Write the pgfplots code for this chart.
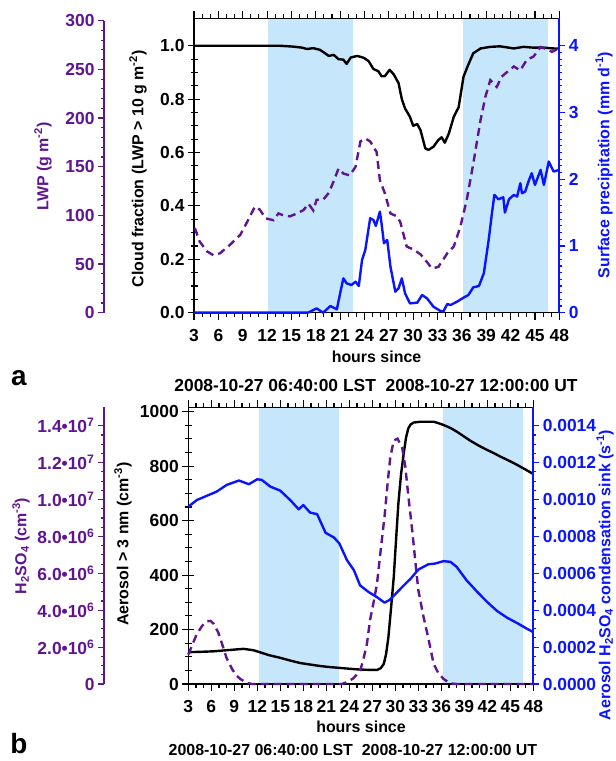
\documentclass[border=0pt]{standalone}
\usepackage{fontspec}
\setmainfont{Liberation Sans}
\usepackage{pgfplots}
\usepackage{pgfplotstable}
\pgfplotsset{compat=1.18}
\definecolor{lwpPurple}{RGB}{95,20,145}
\definecolor{prBlue}{RGB}{10,20,255}
\definecolor{nightShade}{RGB}{198,230,251}
\newcommand\tlf{\bfseries\fontsize{17.5}{17.5}\selectfont}
\newcommand\lbf{\bfseries\fontsize{16}{16}\selectfont}

% ---------- panel a ----------
\pgfplotstableread{
h cf
3.0 1.0
6.0 1.0
9.0 1.0
12.0 1.0
13.6 1.0
15.2 0.997
16.3 0.993
16.9 0.988
17.7 0.991
18.5 0.985
19.0 0.975
19.6 0.962
20.2 0.966
20.8 0.950
21.4 0.948
21.8 0.932
22.3 0.956
23.1 0.962
23.9 0.955
24.5 0.943
25.1 0.913
25.7 0.905
26.1 0.886
26.5 0.886
27.1 0.910
27.6 0.893
28.2 0.860
28.6 0.800
29.0 0.765
29.6 0.734
30.0 0.700
30.5 0.707
30.9 0.684
31.5 0.615
31.9 0.610
32.5 0.622
33.1 0.647
33.5 0.657
33.9 0.637
34.4 0.672
35.0 0.734
35.6 0.770
36.2 0.884
36.8 0.930
37.4 0.972
38.3 0.990
39.5 0.996
40.7 0.998
42.4 0.990
43.6 0.996
44.8 0.993
46.1 0.993
47.3 0.990
48.0 0.990
}\cloudtab

\pgfplotstableread{
h lwp
3.1 87
3.7 73
4.6 63
5.4 59
6.2 61
7.4 69.5
8.7 80
9.5 92.5
10.5 109
11.1 106
11.8 97
12.8 95
13.4 102
14.0 100
14.8 99
15.7 102
16.5 105.5
17.1 112
17.7 105
18.1 116
18.9 116
19.6 123
20.2 135
20.8 148
21.4 143
22.2 141
22.9 150
23.5 176
24.1 179
24.7 176
25.5 165
25.9 136
26.5 123
27.2 102
28.0 99
28.4 93.5
29.2 68
30.0 65
30.9 60
31.7 52
32.3 45.5
33.1 47
34.2 61
35.0 68
35.8 88
36.6 116
37.4 153
38.3 198
38.9 222
39.5 239
40.3 232
40.9 242.5
41.8 249
42.4 253
43.2 249
44.0 260
44.8 263
45.7 273
46.5 270.6
47.1 268
47.7 270.6
48.0 266
}\lwptab

\pgfplotstableread{
h pr
3.0 0
10.0 0
17.0 0
17.3 0.015
18.1 0.065
18.9 0
19.8 0.1
20.6 0.05
21.0 0.29
21.4 0.515
21.8 0.44
22.4 0.415
22.9 0.465
23.3 0.40
23.7 0.79
24.1 0.94
24.7 1.415
25.1 1.39
25.4 1.30
25.9 1.515
26.1 1.34
26.4 1.04
26.8 1.09
27.2 0.69
27.8 0.315
28.2 0.365
28.6 0.515
29.0 0.29
29.6 0.14
30.5 0.15
31.1 0.265
31.7 0.215
32.5 0.09
33.3 0.03
33.7 0.015
34.2 0.13
34.6 0.115
35.4 0.165
36.2 0.225
36.8 0.265
37.4 0.38
38.1 0.40
38.7 0.59
39.3 1.09
39.7 1.49
40.0 1.765
40.5 1.70
41.1 1.73
41.3 1.50
41.8 1.70
42.4 1.765
42.8 1.74
43.2 1.94
43.4 1.79
43.8 1.815
44.2 1.965
44.6 2.09
45.0 1.915
45.7 2.14
46.1 1.915
46.7 2.265
47.3 2.115
48.0 2.14
}\prtab

% ---------- panel b ----------
\pgfplotstableread{
h aer
3.0 117
4.5 118
6.3 120
8.0 124
10.2 129
11.5 124
12.3 117
13.5 106
15.0 96
16.3 86
17.6 77
19.0 71
20.2 66
21.5 62
22.8 59
24.0 56
25.4 53
26.5 52
27.6 51.5
28.1 58
28.5 74
28.8 110
29.1 172
29.45 280
29.8 393
30.1 530
30.4 663
30.75 770
31.1 847
31.4 905
31.7 939
32.0 953
32.4 960
33.3 963
34.2 963
35.0 963
35.6 958
36.3 951
37.2 940
38.0 927
38.9 910
39.8 893
40.9 875
42.0 859
42.9 847
43.7 835
44.6 823
45.4 812
46.7 792
48.0 771
}\aertab

\pgfplotstableread{
h hso
3.0 1.6
3.5 2.1
4.1 2.7
4.8 3.15
5.4 3.4
5.9 3.42
6.3 3.27
6.9 2.8
7.4 2.18
8.0 1.4
8.7 0.82
9.3 0.45
9.8 0.27
10.6 0.06
11.3 0.0
23.0 0.0
23.7 0.1
24.5 0.3
25.4 0.7
25.8 1.27
26.3 2.18
26.7 3.45
27.2 4.5
27.6 5.4
28.0 6.9
28.6 9.1
29.0 10.9
29.35 12.3
29.8 13.2
30.3 13.3
30.9 12.8
31.3 11.8
31.7 10.2
32.2 8.35
32.6 6.7
33.0 5.1
33.7 3.6
34.3 2.5
35.0 1.09
35.6 0.6
36.3 0.27
37.2 0.03
38.0 0.0
48.0 0.0
}\hsotab

\pgfplotstableread{
h cs
3.0 0.000961
4.1 0.000997
5.4 0.00102
6.7 0.001043
8.0 0.001079
9.6 0.001103
10.9 0.001083
12.0 0.00111
12.6 0.001106
13.7 0.00107
15.0 0.001048
16.3 0.000997
17.4 0.000947
18.0 0.00097
18.9 0.000929
19.8 0.000921
20.9 0.00082
22.0 0.000794
22.7 0.000762
23.7 0.000671
24.6 0.000617
25.4 0.000535
26.5 0.000499
27.6 0.000471
28.6 0.000441
29.3 0.000457
30.7 0.000517
32.0 0.000571
33.0 0.00062
34.3 0.000649
35.2 0.000653
36.3 0.000666
37.2 0.000662
38.0 0.000635
39.3 0.000562
40.7 0.000499
42.0 0.000444
43.3 0.000395
44.6 0.000359
45.9 0.00033
47.2 0.000299
48.0 0.000281
}\cstab

\pgfplotsset{
  base/.style={scale only axis, clip=false,
    /pgf/number format/assume math mode=true,
    /pgf/number format/1000 sep={},
    ticklabel style={font=\tlf},
    xmin=3, xmax=48},
  frameax/.style={base, axis on top, xtick={3,6,...,48}, minor x tick num=2,
    ytick=\empty, tick align=outside, major tick length=7bp, minor tick length=4bp,
    xticklabel style={yshift=-6bp},
    axis line style={line width=1.4bp}, every tick/.style={black, line width=1.1bp}},
  leftax/.style={base, axis x line=none, axis y line*=left, tick align=center,
    major tick length=12bp, minor tick length=7bp,
    axis line style={line width=1.4bp}, every tick/.style={black, line width=1.1bp}},
  rightax/.style={base, axis x line=none, axis y line*=right, tick align=outside,
    major tick length=6bp, minor tick length=3bp,
    y axis line style={prBlue, line width=2bp}, ytick style={prBlue, line width=1.1bp},
    yticklabel style={text=prBlue}},
  scaleax/.style={scale only axis, width=1bp, xmin=0, xmax=1,
    /pgf/number format/assume math mode=true,
    ticklabel style={font=\tlf, text=lwpPurple},
    axis x line=none, axis y line*=left, tick align=outside,
    major tick length=6bp, minor tick length=3bp,
    y axis line style={lwpPurple, line width=2bp}, ytick style={lwpPurple, line width=1.1bp}},
}

\begin{document}
\begin{tikzpicture}
\useasboundingbox (0,0) rectangle (616bp,761bp);

% ================= panel a =================
\begin{axis}[frameax, at={(194bp,448.3bp)}, anchor=south west, width=365.3bp, height=294.4bp,
  ymin=0, ymax=1.103]
  \fill[nightShade] (axis cs:12.07,0) rectangle (axis cs:22.54,1.103);
  \fill[nightShade] (axis cs:36.13,0) rectangle (axis cs:46.55,1.103);
  \addplot[black, line width=2.4bp, line join=round] table[x=h, y=cf] {\cloudtab};
\end{axis}
\begin{axis}[leftax, at={(194bp,448.3bp)}, anchor=south west, width=365.3bp, height=294.4bp,
  ymin=0, ymax=1.103, ytick={0,0.2,0.4,0.6,0.8,1.0}, minor y tick num=3,
  yticklabel style={/pgf/number format/.cd, fixed, fixed zerofill, precision=1}]
\end{axis}
\begin{axis}[base, hide axis, at={(194bp,448.3bp)}, anchor=south west, width=365.3bp, height=294.4bp,
  ymin=0, ymax=302.5]
  \addplot[lwpPurple, line width=2.4bp, dash pattern=on 8bp off 5bp] table[x=h, y=lwp] {\lwptab};
\end{axis}
\begin{axis}[rightax, at={(194bp,448.3bp)}, anchor=south west, width=365.3bp, height=294.4bp,
  ymin=0, ymax=4.412, ytick={0,1,2,3,4}, minor y tick num=9]
  \addplot[prBlue, line width=2.4bp, line join=round] table[x=h, y=pr] {\prtab};
\end{axis}
\begin{axis}[scaleax, at={(104bp,448.3bp)}, anchor=south west, height=292bp,
  ymin=0, ymax=300, ytick={0,50,100,150,200,250,300}, minor y tick num=4]
\end{axis}

\node[rotate=90, inner sep=0pt, font=\lbf, text=lwpPurple] at (43bp,594.5bp) {LWP (g m\textsuperscript{-2})};
\node[rotate=90, inner sep=0pt, font=\lbf] at (138bp,592bp) {Cloud fraction (LWP > 10 g m\textsuperscript{-2})};
\node[rotate=90, inner sep=0pt, font=\lbf, text=prBlue] at (604bp,596bp) {Surface precipitation (mm d\textsuperscript{-1})};
\node[font=\lbf] at (376.5bp,404bp) {hours since};
\node[font=\bfseries\fontsize{28}{28}\selectfont] at (19bp,383bp) {a};
\node[font=\bfseries\fontsize{17.5}{17.5}\selectfont] at (376bp,375bp) {2008-10-27 06:40:00 LST\ \ 2008-10-27 12:00:00 UT};

% ================= panel b =================
\begin{axis}[frameax, at={(188.3bp,77bp)}, anchor=south west, width=345bp, height=276.7bp,
  ymin=0, ymax=1016]
  \fill[nightShade] (axis cs:12.22,0) rectangle (axis cs:22.7,1016);
  \fill[nightShade] (axis cs:36.2,0) rectangle (axis cs:46.7,1016);
  \addplot[black, line width=2.4bp, line join=round] table[x=h, y=aer] {\aertab};
\end{axis}
\begin{axis}[leftax, at={(188.3bp,77bp)}, anchor=south west, width=345bp, height=276.7bp,
  ymin=0, ymax=1016, ytick={0,200,400,600,800,1000}, minor y tick num=3]
\end{axis}
\begin{axis}[base, hide axis, at={(188.3bp,77bp)}, anchor=south west, width=345bp, height=276.7bp,
  ymin=0, ymax=15]
  \addplot[lwpPurple, line width=2.4bp, dash pattern=on 8bp off 5bp] table[x=h, y=hso] {\hsotab};
\end{axis}
\begin{axis}[rightax, at={(188.3bp,77bp)}, anchor=south west, width=345bp, height=276.7bp,
  ymin=0, ymax=0.0015, scaled y ticks=false,
  ytick={0,0.0002,0.0004,0.0006,0.0008,0.0010,0.0012,0.0014}, minor y tick num=3,
  yticklabel style={/pgf/number format/.cd, fixed, fixed zerofill, precision=4}]
  \addplot[prBlue, line width=2.4bp, line join=round] table[x=h, y=cs] {\cstab};
\end{axis}
\begin{axis}[scaleax, at={(104bp,77bp)}, anchor=south west, height=276.7bp,
  ymin=0, ymax=15, ytick={0,2,4,6,8,10,12,14}, minor y tick num=3,
  yticklabels={0, 2.0•10\textsuperscript{6}, 4.0•10\textsuperscript{6}, 6.0•10\textsuperscript{6},
    8.0•10\textsuperscript{6}, 1.0•10\textsuperscript{7}, 1.2•10\textsuperscript{7}, 1.4•10\textsuperscript{7}}]
\end{axis}

\node[rotate=90, inner sep=0pt, font=\lbf, text=lwpPurple] at (21bp,215bp) {H\textsubscript{2}SO\textsubscript{4} (cm\textsuperscript{-3})};
\node[rotate=90, inner sep=0pt, font=\lbf] at (123bp,217bp) {Aerosol > 3 nm (cm\textsuperscript{-3})};
\node[rotate=90, inner sep=0pt, font=\lbf, text=prBlue] at (605bp,186bp) {Aerosol H\textsubscript{2}SO\textsubscript{4} condensation sink (s\textsuperscript{-1})};
\node[font=\lbf] at (361bp,34bp) {hours since};
\node[font=\bfseries\fontsize{28}{28}\selectfont] at (19bp,17bp) {b};
\node[font=\bfseries\fontsize{16}{16}\selectfont] at (353bp,11bp) {2008-10-27 06:40:00 LST\ \ 2008-10-27 12:00:00 UT};
\end{tikzpicture}
\end{document}
